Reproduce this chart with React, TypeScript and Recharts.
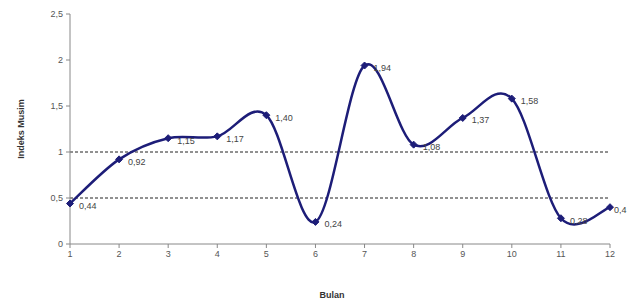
import { LineChart, Line, XAxis, YAxis, ReferenceLine, LabelList, Label } from 'recharts'

const months = [1, 2, 3, 4, 5, 6, 7, 8, 9, 10, 11, 12]
const seasonalIndex = [0.44, 0.92, 1.15, 1.17, 1.4, 0.24, 1.94, 1.08, 1.37, 1.58, 0.28, 0.4]
const indexLabels = ['0,44', '0,92', '1,15', '1,17', '1,40', '0,24', '1,94', '1,08', '1,37', '1,58', '0,28', '0,4']
const yTicks = [0, 0.5, 1, 1.5, 2, 2.5]
const refLevels = [1, 0.5]

const data = months.map((m, i) => ({ month: m, value: seasonalIndex[i], label: indexLabels[i] }))

const NAVY = '#1d1d78'
const FONT = 'Liberation Sans, Arial, sans-serif'

// Excel style smoothing: cardinal spline with bezier handles of 1/6 of the neighbour chord
const smoothCurve = (ctx: any) => {
  let pts: [number, number][] = []
  return {
    areaStart() {},
    areaEnd() {},
    lineStart() { pts = [] },
    lineEnd() {
      if (!pts.length) return
      ctx.moveTo(pts[0][0], pts[0][1])
      for (let i = 0; i < pts.length - 1; i++) {
        const p0 = pts[Math.max(i - 1, 0)]
        const p1 = pts[i]
        const p2 = pts[i + 1]
        const p3 = pts[Math.min(i + 2, pts.length - 1)]
        ctx.bezierCurveTo(
          p1[0] + (p2[0] - p0[0]) / 6, p1[1] + (p2[1] - p0[1]) / 6,
          p2[0] - (p3[0] - p1[0]) / 6, p2[1] - (p3[1] - p1[1]) / 6,
          p2[0], p2[1]
        )
      }
    },
    point(x: number, y: number) { pts.push([+x, +y]) },
  }
}

function Diamond({ cx, cy }: any) {
  if (cx == null || cy == null) return null
  const s = 3.5
  return <polygon points={`${cx},${cy - s} ${cx + s},${cy} ${cx},${cy + s} ${cx - s},${cy}`} fill={NAVY} stroke={NAVY} />
}

function ValueLabel({ x, y, value, index }: any) {
  // the last point sits at the right edge, so its label hugs the marker
  const dx = index === months.length - 1 ? 4 : 9
  return (
    <text x={x + dx} y={y + 3} fontSize={9} fontFamily={FONT} fill="#444" textAnchor="start" dominantBaseline="middle">
      {value}
    </text>
  )
}

export default function App() {
  return (
    <div style={{ position: 'absolute', left: 0, top: 0, background: '#fff' }}>
      <LineChart width={627} height={304} data={data} margin={{ top: 14, right: 17, left: 0, bottom: 0 }}>
        <XAxis
          dataKey="month"
          type="number"
          domain={[1, 12]}
          ticks={months}
          interval={0}
          height={60}
          stroke="#888"
          tickSize={4}
          tickMargin={3}
          tick={{ fontSize: 9, fill: '#555', fontFamily: FONT }}
        >
          <Label
            content={({ viewBox }: any) => (
              <text x={viewBox.x + viewBox.width / 2 - 8} y={298} fontSize={9} fontWeight="bold" fontFamily={FONT} fill="#333" textAnchor="middle">
                Bulan
              </text>
            )}
          />
        </XAxis>
        <YAxis
          domain={[0, 2.5]}
          ticks={yTicks}
          width={70}
          stroke="#888"
          tickSize={4}
          tickMargin={3}
          tickFormatter={(v: number) => String(v).replace('.', ',')}
          tick={{ fontSize: 9, fill: '#555', fontFamily: FONT }}
        >
          <Label
            content={({ viewBox }: any) => {
              const cy = viewBox.y + viewBox.height / 2
              return (
                <text x={22} y={cy} transform={`rotate(-90 22 ${cy})`} fontSize={9} fontWeight="bold" fontFamily={FONT} fill="#333" textAnchor="middle" dominantBaseline="middle">
                  Indeks Musim
                </text>
              )
            }}
          />
        </YAxis>
        {refLevels.map((r) => (
          <ReferenceLine key={r} y={r} stroke="#222" strokeDasharray="3 2" strokeWidth={1} />
        ))}
        <Line
          dataKey="value"
          type={smoothCurve as any}
          stroke={NAVY}
          strokeWidth={2.5}
          dot={<Diamond />}
          activeDot={false}
          isAnimationActive={false}
        >
          <LabelList dataKey="label" content={<ValueLabel />} />
        </Line>
      </LineChart>
    </div>
  )
}
